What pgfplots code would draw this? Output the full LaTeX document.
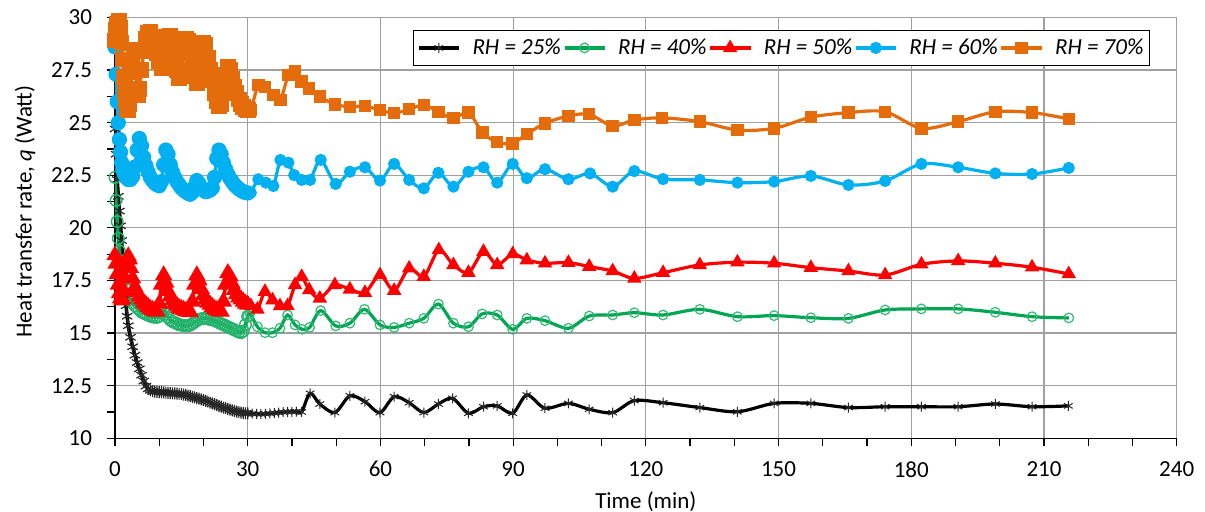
\documentclass[border=0pt]{standalone}
\usepackage{fontspec}
\setmainfont{Carlito}
\usepackage{pgfplots}
\pgfplotsset{compat=1.18}
\definecolor{cgreen}{RGB}{0,166,82}
\definecolor{cred}{RGB}{255,0,0}
\definecolor{cblue}{RGB}{0,176,240}
\definecolor{corange}{RGB}{228,108,10}
\definecolor{cgrid}{RGB}{160,160,160}
\begin{document}
\begin{tikzpicture}
\useasboundingbox (-57.5pt,-36.85pt) rectangle (545pt,219.15pt);
\begin{axis}[
  scale only axis,
  width=530.85pt, height=210.4pt,
  xmin=0, xmax=240, ymin=10, ymax=30,
  axis x line*=bottom, axis y line*=left,
  axis line style={black, line width=0.6pt},
  xtick={0,30,...,240}, minor x tick num=2,
  ytick={10,12.5,15,17.5,20,22.5,25,27.5,30}, minor y tick num=1,
  tick align=outside, major tick length=4pt, minor tick length=4pt,
  tick style={black, line width=0.6pt},
  grid=major, major grid style={cgrid, line width=0.6pt},
  /pgf/number format/assume math mode=true,
  yticklabel style={/pgf/number format/fixed, /pgf/number format/precision=1, xshift=-4pt},
  xticklabel style={yshift=-4pt},
  ticklabel style={font=\fontsize{11.5}{13}\selectfont},
  label style={font=\fontsize{11.5}{13}\selectfont},
  xlabel={Time (min)},
  ylabel={Heat transfer rate, \textit{q} (Watt)},
  xlabel style={at={(axis description cs:0.5,-0.15)}, anchor=center},
  ylabel style={at={(axis description cs:-0.0848,0.539)}, anchor=center},
  legend style={draw=black, line width=0.6pt, fill=white,
    at={(0.9749,0.9703)}, anchor=north east,
    legend columns=5, font=\itshape\fontsize{11.5}{13}\selectfont,
    inner sep=2pt, nodes={inner xsep=1pt},
    /tikz/every even column/.append style={column sep=0pt},
    /tikz/every odd column/.append style={column sep=5pt}},
  legend image code/.code={\draw[mark repeat=2,mark phase=2] plot coordinates {(0pt,0pt) (10pt,0pt) (20pt,0pt)};},
]
% ---------- dense part (0-30 min) ----------
\addplot[forget plot, black, line width=1.8pt, smooth, mark=asterisk, mark size=3pt, mark options={solid, line width=0.6pt, draw=black!85}] coordinates {
(0,24.7)(0.25,23.5)(0.5,22.3)(0.75,21.5)(1,20.8)(1.25,20.1)(1.5,19.4)(1.75,18.5)(2,17.6)(2.25,16.8)(2.5,16.3)(2.75,15.8)(3,15.35)(3.5,14.8)(4,14.35)(4.5,13.95)(5,13.6)(5.5,13.3)(6,13.0)(6.5,12.72)(7,12.48)(7.5,12.35)(8,12.28)(8.5,12.24)(9,12.22)(9.5,12.21)(10,12.2)(10.5,12.19)(11,12.18)(11.5,12.17)(12,12.16)(12.5,12.15)(13,12.14)(13.5,12.13)(14,12.12)(14.5,12.11)(15,12.1)(15.5,12.08)(16,12.06)(16.5,12.03)(17,12.0)(17.5,11.97)(18,11.94)(18.5,11.91)(19,11.88)(19.5,11.85)(20,11.81)(20.5,11.78)(21,11.74)(21.5,11.7)(22,11.66)(22.5,11.62)(23,11.58)(23.5,11.54)(24,11.5)(24.5,11.46)(25,11.43)(25.5,11.4)(26,11.36)(26.5,11.33)(27,11.3)(27.5,11.27)(28,11.24)(28.5,11.22)(29,11.2)(29.5,11.19)(30,11.18)
};
\addplot[forget plot, cgreen, line width=1.8pt, smooth, mark=o, mark size=2.9pt, mark options={solid, line width=0.7pt, draw=cgreen!85, fill=none}] coordinates {
(0,22.4)(0.25,21.3)(0.5,20.3)(0.75,19.5)(1,18.9)(1.25,18.4)(1.5,18.0)(2,17.5)(2.5,17.1)(3,16.8)(3.5,16.6)(4,16.45)(4.5,16.3)(5,16.2)(5.5,16.1)(6,16.0)(6.5,15.95)(7,15.9)(7.5,15.85)(8,15.8)(8.5,15.77)(9,15.75)(9.5,15.75)(10,15.8)(10.5,15.95)(11,16.05)(11.5,15.9)(12,15.75)(12.5,15.62)(13,15.55)(13.5,15.5)(14,15.45)(14.5,15.4)(15,15.38)(15.5,15.36)(16,15.35)(16.5,15.35)(17,15.38)(17.5,15.45)(18,15.52)(18.5,15.6)(19,15.65)(19.5,15.68)(20,15.7)(20.5,15.7)(21,15.68)(21.5,15.65)(22,15.62)(22.5,15.6)(23,15.55)(23.5,15.5)(24,15.45)(24.5,15.4)(25,15.35)(25.5,15.3)(26,15.25)(26.5,15.2)(27,15.15)(27.5,15.1)(28,15.05)(28.5,15.02)(29,15.1)(29.5,15.4)(30,15.8)
};
\addplot[forget plot, cred, line width=1.8pt, smooth, mark=triangle*, mark size=3.2pt, mark options={solid, fill=cred, draw=cred}] coordinates {
(0,18.7)(0.25,18.3)(0.5,17.8)(0.75,17.3)(1,16.9)(1.25,16.65)(1.5,16.55)(1.75,16.6)(2,17.0)(2.25,17.6)(2.5,18.1)(2.75,18.5)(3,18.65)(3.25,18.5)(3.5,18.1)(4,17.6)(4.5,17.2)(5,16.95)(5.5,16.75)(6,16.6)(6.5,16.45)(7,16.35)(7.5,16.25)(8,16.15)(8.5,16.1)(9,16.05)(9.5,16.02)(10,16.4)(10.5,17.3)(11,17.75)(11.5,17.4)(12,17.0)(12.5,16.75)(13,16.55)(13.5,16.4)(14,16.3)(14.5,16.2)(15,16.15)(15.5,16.1)(16,16.05)(16.5,16.02)(17,16.0)(17.5,16.5)(18,17.3)(18.5,17.75)(19,17.5)(19.5,17.1)(20,16.8)(20.5,16.6)(21,16.45)(21.5,16.35)(22,16.25)(22.5,16.15)(23,16.1)(23.5,16.05)(24,16.02)(24.5,16.5)(25,17.3)(25.5,17.85)(26,17.7)(26.5,17.35)(27,17.05)(27.5,16.85)(28,16.7)(28.5,16.6)(29,16.5)(29.5,16.4)(30,16.35)
};
\addplot[forget plot, cblue, line width=1.8pt, smooth, mark=*, mark size=2.9pt, mark options={solid, fill=cblue, draw=cblue}] coordinates {
(0,28.6)(0.25,27.3)(0.5,26.0)(0.75,25.0)(1,24.2)(1.25,23.6)(1.5,23.1)(1.75,22.8)(2,22.6)(2.5,22.4)(3,22.3)(3.5,22.3)(4,22.45)(4.5,22.9)(5,23.7)(5.5,24.25)(6,23.9)(6.5,23.35)(7,22.95)(7.5,22.65)(8,22.4)(8.5,22.25)(9,22.12)(9.5,22.05)(10,22.0)(10.5,22.2)(11,23.0)(11.5,23.7)(12,23.5)(12.5,23.0)(13,22.65)(13.5,22.4)(14,22.2)(14.5,22.05)(15,21.9)(15.5,21.8)(16,21.72)(16.5,21.65)(17,21.6)(17.5,21.7)(18,21.95)(18.5,22.25)(19,22.1)(19.5,21.9)(20,21.8)(20.5,21.72)(21,21.75)(21.5,21.8)(22,21.9)(22.5,22.4)(23,23.3)(23.5,23.7)(24,23.5)(24.5,23.1)(25,22.8)(25.5,22.55)(26,22.35)(26.5,22.2)(27,22.05)(27.5,21.95)(28,21.85)(28.5,21.78)(29,21.72)(29.5,21.68)(30,21.66)
};
\addplot[forget plot, corange, line width=1.8pt, smooth, mark=square*, mark size=3pt, mark options={solid, fill=corange, draw=corange}] coordinates {
(0,28.9)(0.25,29.4)(0.5,29.7)(0.75,29.85)(1,29.85)(1.25,29.5)(1.5,28.8)(1.75,28.0)(2,27.2)(2.25,26.5)(2.5,26.0)(2.75,25.7)(3,25.6)(3.25,25.9)(3.5,26.6)(3.75,27.4)(4,28.0)(4.25,28.4)(4.5,28.45)(4.75,27.5)(5,26.5)(5.25,26.3)(5.5,26.6)(6,27.5)(6.5,28.4)(7,29.0)(7.5,29.25)(8,29.3)(8.5,29.1)(9,28.7)(9.5,28.3)(10,27.9)(10.5,27.6)(11,27.8)(11.5,28.6)(12,29.1)(12.5,29.15)(13,28.6)(13.5,28.0)(14,27.5)(14.5,27.1)(15,27.4)(15.5,28.3)(16,29.0)(16.5,28.9)(17,28.3)(17.5,27.7)(18,27.2)(18.5,26.9)(19,27.3)(19.5,28.2)(20,28.8)(20.5,28.7)(21,28.1)(21.5,27.5)(22,27.0)(22.5,26.4)(23,26.0)(23.5,25.8)(24,25.9)(24.5,26.6)(25,27.3)(25.5,27.65)(26,27.5)(26.5,27.1)(27,26.7)(27.5,26.4)(28,26.1)(28.5,25.9)(29,25.75)(29.5,25.65)(30,25.6)
};
% ---------- sparse part (30-216 min) ----------
\addplot[black, line width=1.6pt, smooth, mark=asterisk, mark size=2.5pt, mark options={solid, line width=0.5pt, draw=black!85}] coordinates {
(30,11.18)(31,11.17)(32,11.16)(33,11.15)(34,11.16)(35,11.18)(36,11.2)(37,11.22)(38,11.24)(39,11.26)(40,11.26)(41,11.27)(42.2,11.25)(44.1,12.14)(46.3,11.63)(49.7,11.22)(53.1,12.02)(56.5,11.74)(59.9,11.22)(63.1,11.98)(66.5,11.69)(69.8,11.22)(73.1,11.63)(76.3,11.9)(79.9,11.19)(83.3,11.5)(86.4,11.54)(89.9,11.19)(93.1,12.06)(97.2,11.43)(102.5,11.66)(107.2,11.38)(112.5,11.22)(117.4,11.79)(123.9,11.69)(132.2,11.46)(140.7,11.26)(149.0,11.66)(157.3,11.66)(165.8,11.46)(174.1,11.5)(182.3,11.5)(190.6,11.5)(199.0,11.63)(207.3,11.5)(215.5,11.54)
};
\addlegendentry{RH = 25\%}
\addplot[cgreen, line width=1.6pt, smooth, mark=o, mark size=2.4pt, mark options={solid, line width=0.6pt, draw=cgreen!80, fill=none}] coordinates {
(30,15.8)(30.5,15.94)(32.2,15.3)(33.9,15.02)(35.6,15.02)(37.3,15.23)(39.0,15.86)(40.7,15.39)(42.3,15.18)(44.0,15.27)(46.5,16.07)(49.9,15.34)(53.1,15.47)(56.4,16.13)(59.9,15.39)(63.1,15.27)(66.5,15.47)(69.8,15.7)(73.1,16.38)(76.5,15.47)(79.9,15.3)(83.0,15.91)(86.4,15.86)(89.9,15.18)(93.1,15.7)(97.2,15.59)(102.5,15.23)(107.2,15.81)(112.5,15.86)(117.4,15.97)(123.9,15.86)(132.2,16.13)(140.7,15.78)(149.0,15.83)(157.3,15.73)(165.8,15.7)(174.1,16.1)(182.3,16.15)(190.6,16.15)(199.0,15.99)(207.3,15.78)(215.6,15.72)
};
\addlegendentry{RH = 40\%}
\addplot[cred, line width=1.6pt, smooth, mark=triangle*, mark size=2.6pt, mark options={solid, fill=cred, draw=cred}] coordinates {
(30,16.35)(30.7,16.3)(32.2,16.13)(33.9,16.97)(35.6,16.57)(37.3,16.29)(39.0,16.29)(40.7,17.29)(42.2,17.68)(43.9,17.05)(46.3,16.65)(49.7,17.29)(53.1,17.08)(56.5,16.92)(59.9,17.76)(63.1,17.02)(66.5,18.08)(69.8,17.68)(73.2,18.95)(76.5,18.24)(79.9,17.87)(83.3,18.87)(86.4,18.24)(89.9,18.76)(93.1,18.47)(97.2,18.32)(102.5,18.35)(107.2,18.16)(112.5,17.95)(117.4,17.6)(123.9,17.87)(132.2,18.24)(140.7,18.37)(149.0,18.32)(157.3,18.11)(165.8,17.95)(174.1,17.76)(182.3,18.27)(190.6,18.43)(199.0,18.32)(207.3,18.13)(215.6,17.81)
};
\addlegendentry{RH = 50\%}
\addplot[cblue, line width=1.6pt, smooth, mark=*, mark size=2.2pt, mark options={solid, fill=cblue, draw=cblue}] coordinates {
(30,21.66)(30.7,21.67)(32.4,22.31)(34.1,22.15)(35.8,21.99)(37.4,23.23)(39.2,23.1)(40.5,22.51)(42.2,22.28)(44.1,22.28)(46.5,23.23)(49.9,22.09)(53.1,22.67)(56.5,22.88)(59.9,22.25)(63.1,23.04)(66.5,22.28)(69.8,21.88)(73.1,22.62)(76.5,21.96)(79.9,22.67)(83.3,22.88)(86.4,22.15)(89.9,23.04)(93.1,22.36)(97.2,22.79)(102.5,22.31)(107.4,22.59)(112.5,21.96)(117.4,22.7)(123.9,22.32)(132.2,22.28)(140.7,22.15)(149.0,22.2)(157.3,22.47)(165.8,22.04)(174.1,22.23)(182.3,23.04)(190.6,22.88)(199.0,22.59)(207.3,22.56)(215.6,22.85)
};
\addlegendentry{RH = 60\%}
\addplot[corange, line width=1.6pt, smooth, mark=square*, mark size=2.3pt, mark options={solid, fill=corange, draw=corange}] coordinates {
(30,25.6)(30.7,25.6)(32.4,26.8)(33.9,26.71)(35.8,26.32)(37.4,26.08)(39.2,27.27)(40.7,27.43)(42.2,26.95)(43.9,26.63)(46.3,26.24)(49.7,25.87)(53.1,25.76)(56.5,25.79)(59.9,25.6)(63.1,25.45)(66.5,25.64)(69.8,25.84)(73.1,25.52)(76.5,25.21)(79.9,25.48)(83.1,24.53)(86.4,24.07)(89.9,24.02)(93.1,24.46)(97.2,24.97)(102.5,25.32)(107.2,25.4)(112.5,24.84)(117.4,25.13)(123.7,25.23)(132.2,25.05)(140.7,24.65)(149.0,24.73)(157.3,25.26)(165.8,25.48)(174.1,25.52)(182.3,24.73)(190.6,25.05)(199.0,25.52)(207.3,25.48)(215.6,25.18)
};
\addlegendentry{RH = 70\%}
\end{axis}
\end{tikzpicture}
\end{document}
